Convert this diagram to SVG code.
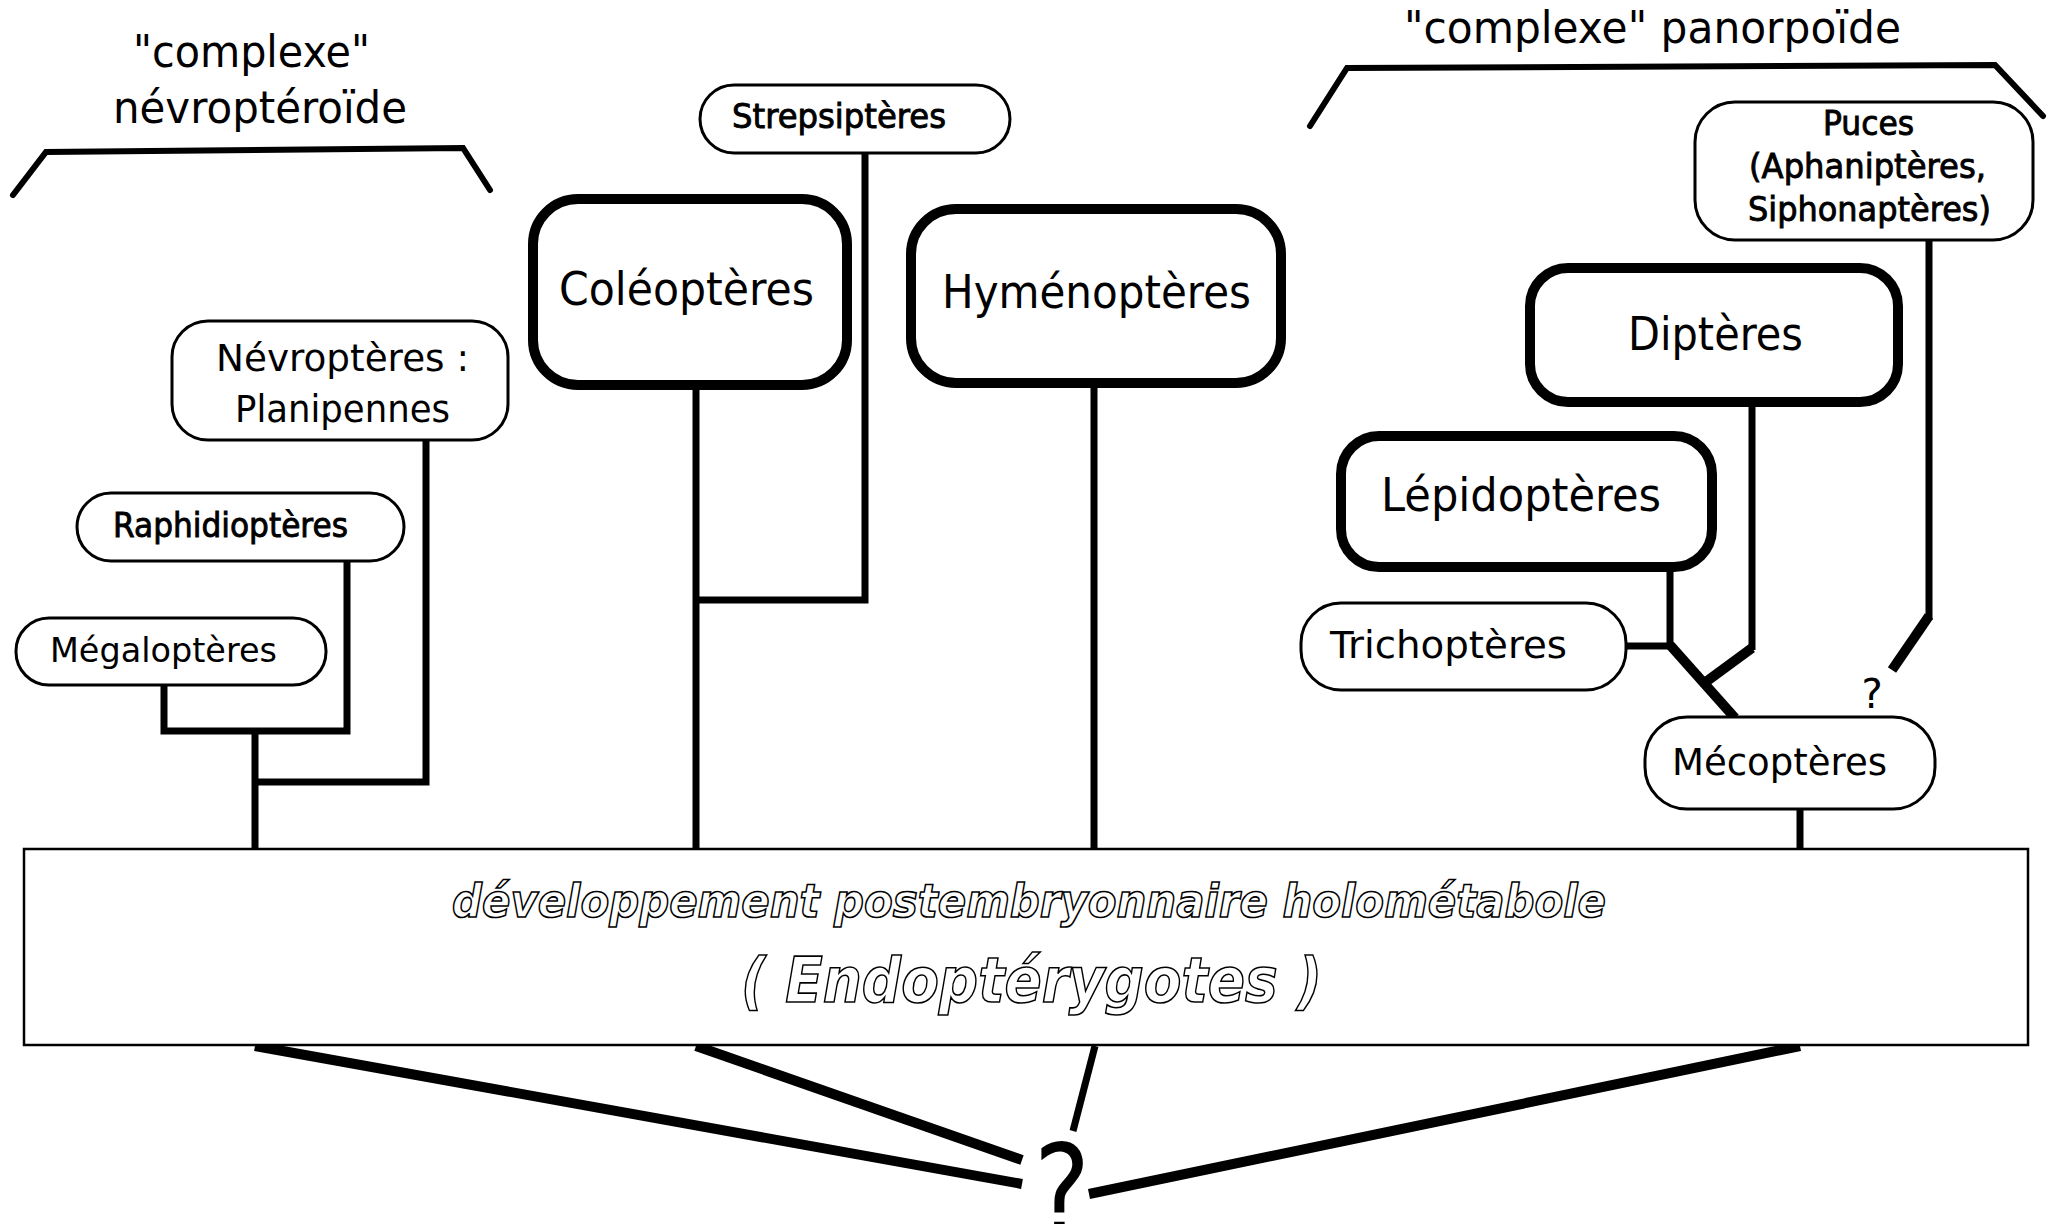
<svg xmlns="http://www.w3.org/2000/svg" width="2054" height="1224" viewBox="0 0 2054 1224">
  <style>
    text { font-family: "DejaVu Sans", "Liberation Sans", sans-serif; fill: #000; }
    .thin { fill: #fff; stroke: #000; stroke-width: 3; }
    .thick { fill: #fff; stroke: #000; stroke-width: 10; }
    .frame { fill: #fff; stroke: #000; stroke-width: 2.5; }
    .edge { fill: none; stroke: #000; stroke-width: 7; stroke-linecap: butt; stroke-linejoin: miter; }
    .heavy { fill: none; stroke: #000; stroke-width: 10; stroke-linejoin: miter; }
    .brace { fill: none; stroke: #000; stroke-width: 6; stroke-linecap: round; stroke-linejoin: miter; }
    .group { font-size: 44px; }
    .big { font-size: 46px; }
    .mid { font-size: 37px; }
    .small { font-size: 33px; }
    .medium { stroke: #000; stroke-width: 0.9; }
    .outline { font-style: italic; font-weight: bold; fill: #fff; stroke: #000; stroke-width: 1.6; }
  </style>

  <!-- group labels and brackets -->
  <g id="complexe-nevropteroide">
    <path class="brace" d="M13,195 L46,152 L463,148 L490,190"/>
    <text class="group" x="133" y="67" textLength="237" lengthAdjust="spacingAndGlyphs">"complexe"</text>
    <text class="group" x="113" y="123" textLength="294" lengthAdjust="spacingAndGlyphs">névroptéroïde</text>
  </g>
  <g id="complexe-panorpoide">
    <path class="brace" d="M1310,126 L1347,68 L1995,65 L2043,116"/>
    <text class="group" x="1404" y="43" textLength="497" lengthAdjust="spacingAndGlyphs">"complexe" panorpoïde</text>
  </g>

  <!-- connectors -->
  <g id="connectors">
    <!-- névroptéroïdes -->
    <path class="edge" d="M426,440 V782 H255"/>
    <path class="edge" d="M347,561 V731 H164 V685"/>
    <path class="edge" d="M255,731 V849"/>
    <!-- coléoptères / strepsiptères -->
    <path class="edge" d="M865,153 V600 H696"/>
    <path class="edge" d="M696,390 V849"/>
    <!-- hyménoptères -->
    <path class="edge" d="M1094,388 V849"/>
    <!-- panorpoïdes -->
    <path class="edge" d="M1626,646 H1670 V570"/>
    <path class="heavy" d="M1670,645 L1735,718"/>
    <path class="edge" d="M1752,405 V650"/>
    <path class="heavy" d="M1752,648 L1703,684"/>
    <path class="edge" d="M1929,240 V620"/>
    <path class="heavy" d="M1929,616 L1892,670"/>
    <path class="edge" d="M1800,809 V849"/>
    <!-- common origin -->
    <path class="heavy" d="M255,1046 L1022,1184"/>
    <path class="heavy" d="M696,1046 L1022,1160"/>
    <path class="edge" d="M1095,1046 L1073,1131"/>
    <path class="heavy" d="M1800,1046 L1089,1194"/>
  </g>

  <!-- taxa -->
  <g id="nevropteres">
    <rect class="thin" x="172" y="321" width="336" height="119" rx="36"/>
    <text class="mid" x="216" y="371" textLength="253" lengthAdjust="spacingAndGlyphs">Névroptères :</text>
    <text class="mid" x="235" y="422" textLength="215" lengthAdjust="spacingAndGlyphs">Planipennes</text>
  </g>
  <g id="raphidiopteres">
    <rect class="thin" x="77" y="493" width="327" height="68" rx="34"/>
    <text class="small medium" x="113" y="537" textLength="235" lengthAdjust="spacingAndGlyphs">Raphidioptères</text>
  </g>
  <g id="megalopteres">
    <rect class="thin" x="16" y="618" width="310" height="67" rx="33"/>
    <text class="small" x="50" y="662" textLength="227" lengthAdjust="spacingAndGlyphs">Mégaloptères</text>
  </g>
  <g id="strepsipteres">
    <rect class="thin" x="700" y="85" width="310" height="68" rx="34"/>
    <text class="small medium" x="732" y="128" textLength="214" lengthAdjust="spacingAndGlyphs">Strepsiptères</text>
  </g>
  <g id="coleopteres">
    <rect class="thick" x="533" y="199" width="314" height="186" rx="45"/>
    <text class="big" x="559" y="305" textLength="255" lengthAdjust="spacingAndGlyphs">Coléoptères</text>
  </g>
  <g id="hymenopteres">
    <rect class="thick" x="911" y="209" width="370" height="174" rx="45"/>
    <text class="big" x="942" y="308" textLength="309" lengthAdjust="spacingAndGlyphs">Hyménoptères</text>
  </g>
  <g id="puces">
    <rect class="thin" x="1695" y="102" width="338" height="138" rx="40"/>
    <text class="small medium" x="1823" y="135" textLength="91" lengthAdjust="spacingAndGlyphs">Puces</text>
    <text class="small medium" x="1749" y="178" textLength="237" lengthAdjust="spacingAndGlyphs">(Aphaniptères,</text>
    <text class="small medium" x="1748" y="221" textLength="243" lengthAdjust="spacingAndGlyphs">Siphonaptères)</text>
  </g>
  <g id="dipteres">
    <rect class="thick" x="1530" y="268" width="368" height="134" rx="38"/>
    <text class="big" x="1628" y="350" textLength="175" lengthAdjust="spacingAndGlyphs">Diptères</text>
  </g>
  <g id="lepidopteres">
    <rect class="thick" x="1341" y="436" width="371" height="131" rx="38"/>
    <text class="big" x="1381" y="511" textLength="280" lengthAdjust="spacingAndGlyphs">Lépidoptères</text>
  </g>
  <g id="trichopteres">
    <rect class="thin" x="1301" y="603" width="325" height="87" rx="40"/>
    <text class="mid" x="1330" y="658" textLength="237" lengthAdjust="spacingAndGlyphs">Trichoptères</text>
  </g>
  <g id="mecopteres">
    <rect class="thin" x="1645" y="717" width="290" height="92" rx="42"/>
    <text class="mid" x="1672" y="775" textLength="215" lengthAdjust="spacingAndGlyphs">Mécoptères</text>
    <text x="1872" y="708" font-size="40" text-anchor="middle">?</text>
  </g>

  <!-- shared character -->
  <g id="endopterygotes">
    <rect class="frame" x="24" y="849" width="2004" height="196"/>
    <text class="outline" x="452" y="917" font-size="46" textLength="1154" lengthAdjust="spacingAndGlyphs">développement postembryonnaire holométabole</text>
    <text class="outline" x="741" y="1002" font-size="62" textLength="581" lengthAdjust="spacingAndGlyphs">( Endoptérygotes )</text>
  </g>

  <g id="origine">
    <text transform="translate(1062,1238) scale(0.82,1)" font-size="130" text-anchor="middle">?</text>
  </g>
</svg>
